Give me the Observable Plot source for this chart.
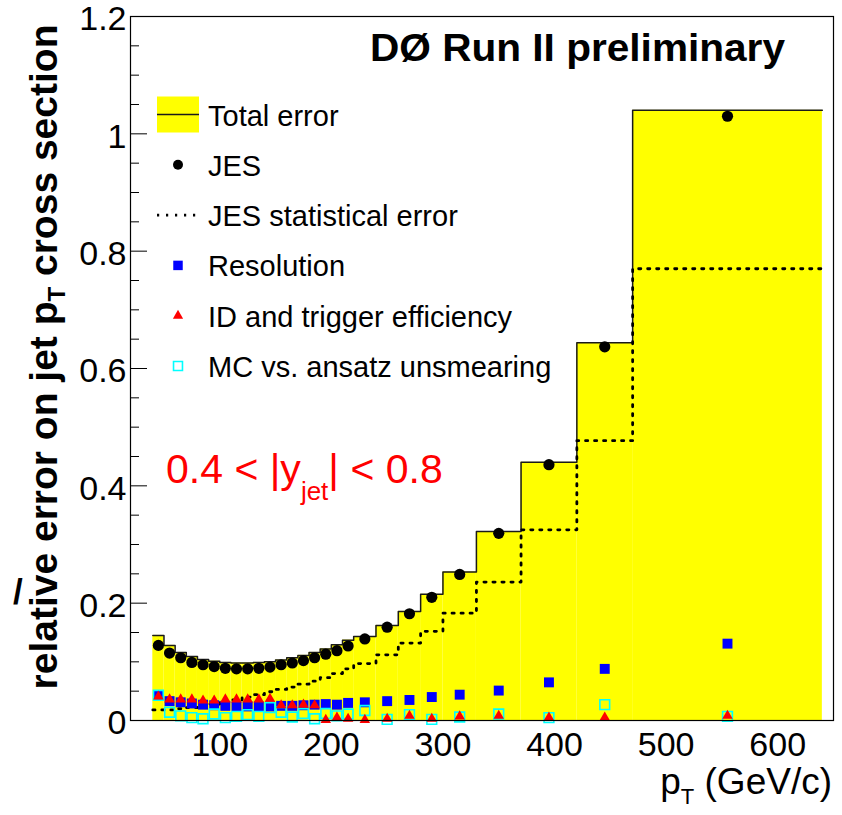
<!DOCTYPE html>
<html><head><meta charset="utf-8">
<script src="https://cdn.jsdelivr.net/npm/d3@7"></script>
<script src="https://cdn.jsdelivr.net/npm/@observablehq/plot@0.6"></script>
<style>
html,body{margin:0;padding:0;background:#fff;}
#chart svg{display:block;}
</style></head><body><div id="chart"></div>
<script>
// bin edges in pT (GeV/c)
const binEdges = [40,50,60,70,80,90,100,110,120,130,140,150,160,170,180,190,200,210,220,240,260,280,300,330,370,420,470,640];
// total error (yellow band)
const totalError = [0.145,0.128,0.116,0.109,0.104,0.101,0.099,0.098,0.098,0.099,0.100,0.103,0.107,0.111,0.116,0.122,0.129,0.137,0.143,0.162,0.186,0.215,0.253,0.322,0.440,0.644,1.040];
// JES
const jes = [0.128,0.115,0.107,0.099,0.095,0.092,0.089,0.088,0.088,0.089,0.091,0.095,0.098,0.102,0.107,0.113,0.119,0.127,0.139,0.159,0.182,0.210,0.249,0.319,0.436,0.637,1.030];
// JES statistical error
const jesStat = [0.018,0.018,0.020,0.022,0.025,0.028,0.031,0.035,0.040,0.044,0.049,0.053,0.057,0.062,0.067,0.073,0.080,0.088,0.097,0.112,0.132,0.152,0.183,0.236,0.325,0.477,0.770];
// Resolution
const resolution = [0.042,0.033,0.031,0.029,0.027,0.026,0.025,0.024,0.024,0.024,0.024,0.025,0.025,0.026,0.027,0.028,0.027,0.030,0.031,0.033,0.035,0.040,0.044,0.051,0.065,0.088,0.131];
// ID and trigger efficiency
const idTrigger = [0.041,0.036,0.036,0.036,0.034,0.034,0.036,0.036,0.036,0.036,0.037,0.026,0.026,0.027,0.026,0.001,0.005,0.003,0.001,0.003,0.008,0.003,0.007,0.008,0.005,0.005,0.008];
// MC vs. ansatz unsmearing
const unsmearing = [0.043,0.014,0.008,0.005,0.003,0.011,0.005,0.007,0.010,0.007,0.022,0.014,0.006,0.012,0.003,0.012,0.008,0.011,0.017,0.002,0.010,0.002,0.006,0.011,0.005,0.027,0.007];

const xTicks = [100,200,300,400,500,600];
const yTicks = [0,0.2,0.4,0.6,0.8,1,1.2];
const legendLabels = ["Total error","JES","JES statistical error","Resolution","ID and trigger efficiency","MC vs. ansatz unsmearing"];
const titleText = "DØ Run II preliminary";

const FONT = "'Liberation Sans', Arial, Helvetica, sans-serif";

const bins = totalError.map((t,i)=>({
  lo: binEdges[i], hi: binEdges[i+1], mid: (binEdges[i]+binEdges[i+1])/2,
  total: t, jes: jes[i], stat: jesStat[i], res: resolution[i], idt: idTrigger[i], uns: unsmearing[i]
}));
const stepPts = key => bins.flatMap(b => [{x:b.lo, y:b[key]}, {x:b.hi, y:b[key]}]);
const minorY = d3.range(0, 1.2001, 0.05).filter(v => Math.abs(v*5 - Math.round(v*5)) > 1e-6);

const DOTS = "2.2,6.8";

const plot = Plot.plot({
  width: 842, height: 815,
  marginLeft: 130, marginRight: 9, marginTop: 16, marginBottom: 95,
  style: {fontFamily: FONT, background: "white", overflow: "visible", color: "black"},
  x: {domain: [20, 650]},
  y: {domain: [0, 1.2]},
  marks: [
    Plot.rectY(bins, {x1: "lo", x2: "hi", y: "total", fill: "#ffff00"}),
    Plot.line(stepPts("total"), {x: "x", y: "y", stroke: "#1a1a1a", strokeWidth: 1.5}),
    Plot.line(stepPts("stat"), {x: "x", y: "y", stroke: "black", strokeWidth: 2.8, strokeDasharray: DOTS}),
    Plot.dot(bins, {x: "mid", y: "jes", r: 5.6, fill: "black"}),
    Plot.dot(bins, {x: "mid", y: "res", r: 5.6, symbol: "square", fill: "#0000ff"}),
    Plot.dot(bins, {x: "mid", y: "uns", r: 5.5, symbol: "square", fill: "none", stroke: "#00ffff", strokeWidth: 1.6}),
    Plot.dot(bins, {x: "mid", y: "idt", r: 3.9, symbol: "triangle", fill: "#ff0000"}),
    Plot.frame({stroke: "black", strokeWidth: 1.2}),
    Plot.axisY(yTicks, {tickSize: -17, tickFormat: () => "", label: null}),
    Plot.axisY(yTicks, {tickSize: 0, tickPadding: 4, tickFormat: d => String(+d.toFixed(1)), fontSize: 34, dy: 3, label: null}),
    Plot.axisY(minorY, {tickSize: -9, tickFormat: () => "", label: null}),
    Plot.axisX(xTicks, {tickSize: 0, tickPadding: 11, fontSize: 34, label: null})
  ]
});
document.getElementById("chart").appendChild(plot);

const svg = d3.select(plot);
const g = svg.append("g").attr("font-family", FONT).attr("fill", "black").attr("text-anchor", "start");

// title
g.append("text").attr("x", 370).attr("y", 61).attr("font-size", 38).attr("font-weight", "bold")
  .attr("textLength", 415).attr("lengthAdjust", "spacingAndGlyphs").text(titleText);

// y axis title
const yt = g.append("text").attr("transform", "translate(57,357) rotate(-90)").attr("text-anchor", "middle")
  .attr("font-size", 39).attr("font-weight", "bold");
yt.append("tspan").text("relative error on jet p");
yt.append("tspan").attr("font-size", 24).attr("dy", 8).text("T");
yt.append("tspan").attr("dy", -8).text(" cross section");
g.append("text").attr("x", 13).attr("y", 604).attr("font-size", 35).attr("font-weight", "bold").text("/");

// x axis title
const xt = g.append("text").attr("x", 832).attr("y", 794).attr("text-anchor", "end").attr("font-size", 37);
xt.append("tspan").text("p");
xt.append("tspan").attr("font-size", 22).attr("dy", 10).text("T");
xt.append("tspan").attr("dy", -10).text(" (GeV/c)");

// rapidity label
const rl = g.append("text").attr("x", 166).attr("y", 483).attr("font-size", 41).attr("fill", "#ff0000");
rl.append("tspan").text("0.4 < |y");
rl.append("tspan").attr("font-size", 26).attr("dy", 17).text("jet");
rl.append("tspan").attr("dy", -17).text("| < 0.8");

// legend
const lx = 178, lw = 42;
legendLabels.forEach((lab, i) => {
  const by = 125.5 + 50.3 * i, cy = by - 11;
  g.append("text").attr("x", 208).attr("y", by).attr("font-size", 29).text(lab);
  if (i === 0) {
    g.append("rect").attr("x", lx - lw/2).attr("y", cy - 18).attr("width", lw).attr("height", 36).attr("fill", "#ffff00");
    g.append("line").attr("x1", lx - lw/2).attr("x2", lx + lw/2).attr("y1", cy).attr("y2", cy).attr("stroke", "#1a1a1a").attr("stroke-width", 1.5);
  } else if (i === 1) {
    g.append("circle").attr("cx", lx).attr("cy", cy).attr("r", 5).attr("fill", "black");
  } else if (i === 2) {
    g.append("line").attr("x1", lx - lw/2).attr("x2", lx + lw/2).attr("y1", cy).attr("y2", cy).attr("stroke", "black").attr("stroke-width", 2.8).attr("stroke-dasharray", DOTS);
  } else if (i === 3) {
    g.append("path").attr("transform", `translate(${lx},${cy})`).attr("d", d3.symbol(d3.symbolSquare, 90)()).attr("fill", "#0000ff");
  } else if (i === 4) {
    g.append("path").attr("transform", `translate(${lx},${cy})`).attr("d", d3.symbol(d3.symbolTriangle, 45)()).attr("fill", "#ff0000");
  } else {
    g.append("path").attr("transform", `translate(${lx},${cy})`).attr("d", d3.symbol(d3.symbolSquare, 80)()).attr("fill", "none").attr("stroke", "#00ffff").attr("stroke-width", 1.6);
  }
});
</script>
</body></html>
